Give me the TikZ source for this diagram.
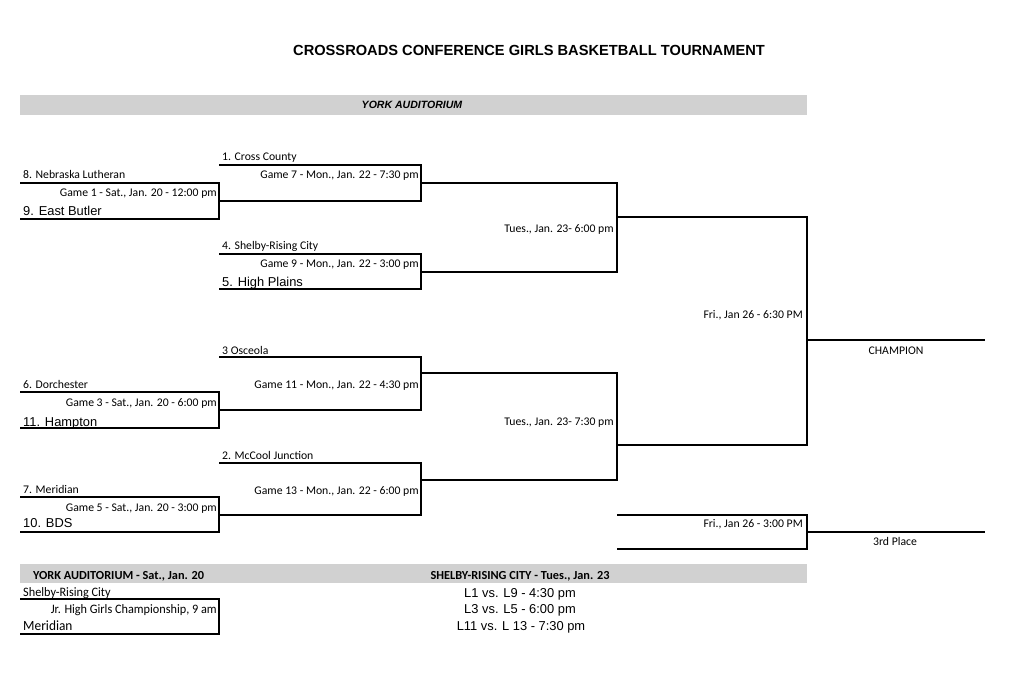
\documentclass[tikz,border=0pt]{standalone}
\usepackage{fontspec}
\setmainfont{Carlito}
\newfontfamily\arialfont{Liberation Sans}
\newfontfamily\narrowfont[FakeStretch=0.95]{Carlito}
\begin{document}
\begin{tikzpicture}[x=0.03cm,y=-0.03cm,
  bline/.style={line width=1.1pt},
  band/.style={fill=black!18},
  seed/.style={anchor=base west,inner sep=0pt,font=\fontsize{10}{12}\selectfont},
  bigseed/.style={anchor=base west,inner sep=0pt,font=\arialfont\fontsize{11}{13}\selectfont},
  gametime/.style={anchor=base east,inner sep=0pt,font=\fontsize{10}{12}\selectfont},
  vsline/.style={anchor=base,inner sep=0pt,font=\arialfont\fontsize{11}{13}\selectfont},
  jrline/.style={inner sep=0pt,font=\narrowfont\fontsize{11}{13}\selectfont}]
  \useasboundingbox (0,0) rectangle (1024,673);
  \fill[white] (0,0) rectangle (1024,673);
  % title and site
  \node[font=\arialfont\bfseries\fontsize{12.5}{15}\selectfont] (title) at (529,50) {CROSSROADS CONFERENCE GIRLS BASKETBALL TOURNAMENT};
  \fill[band] (20,95) rectangle (807,115);
  \node[font=\arialfont\bfseries\itshape\fontsize{9}{11}\selectfont] (site) at (412,105) {YORK AUDITORIUM};
  % opening games
  \draw[bline] (20,183) -| (219,219) -- (20,219);
  \draw[bline] (20,392) -| (219,428) -- (20,428);
  \draw[bline] (20,497) -| (219,532) -- (20,532);
  \node[seed] (g1a) at (23,178) {8. Nebraska Lutheran};
  \node[gametime] (g1) at (217,196) {Game 1 - Sat., Jan. 20 - 12:00 pm};
  \node[bigseed] (g1b) at (23,215) {9. East Butler};
  \node[seed] (g3a) at (23,388) {6. Dorchester};
  \node[gametime] (g3) at (217,406) {Game 3 - Sat., Jan. 20 - 6:00 pm};
  \node[bigseed] (g3b) at (23,426) {11. Hampton};
  \node[seed] (g5a) at (23,493) {7. Meridian};
  \node[gametime] (g5) at (217,511) {Game 5 - Sat., Jan. 20 - 3:00 pm};
  \node[bigseed] (g5b) at (23,527) {10. BDS};
  % quarterfinals
  \draw[bline] (219,165) -| (421,201) -- (219,201);
  \draw[bline] (219,254) -| (421,289) -- (219,289);
  \draw[bline] (219,357) -| (421,410) -- (219,410);
  \draw[bline] (219,463) -| (421,515) -- (219,515);
  \node[seed] (g7a) at (222,160) {1. Cross County};
  \node[gametime] (g7) at (419,178) {Game 7 - Mon., Jan. 22 - 7:30 pm};
  \node[seed] (g9a) at (222,249) {4. Shelby-Rising City};
  \node[gametime] (g9) at (419,267) {Game 9 - Mon., Jan. 22 - 3:00 pm};
  \node[bigseed] (g9b) at (222,286) {5. High Plains};
  \node[seed] (g11a) at (222,354) {3 Osceola};
  \node[gametime] (g11) at (419,388) {Game 11 - Mon., Jan. 22 - 4:30 pm};
  \node[seed] (g13a) at (222,459) {2. McCool Junction};
  \node[gametime] (g13) at (419,494) {Game 13 - Mon., Jan. 22 - 6:00 pm};
  % semifinals
  \draw[bline] (421,183) -| (617,272) -- (421,272);
  \draw[bline] (421,373) -| (617,480) -- (421,480);
  \node[gametime] (s1) at (614,232) {Tues., Jan. 23- 6:00 pm};
  \node[gametime] (s2) at (614,425) {Tues., Jan. 23- 7:30 pm};
  % final and third place
  \draw[bline] (617,217) -| (807,445) -- (617,445);
  \draw[bline] (807,340) -- (985,340);
  \draw[bline] (617,515) -| (807,549) -- (617,549);
  \draw[bline] (807,532) -- (985,532);
  \node[gametime] (fin) at (803,318) {Fri., Jan 26 - 6:30 PM};
  \node[anchor=base,inner sep=0pt] (champ) at (896,354) {CHAMPION};
  \node[gametime] (third) at (803,527) {Fri., Jan 26 - 3:00 PM};
  \node[anchor=base,inner sep=0pt] (place) at (895,545) {3rd Place};
  % consolation schedule
  \fill[band] (20,564) rectangle (807,583);
  \node[anchor=base west,inner sep=0pt,font=\bfseries\fontsize{10.5}{12}\selectfont] (york) at (33,579) {YORK AUDITORIUM - Sat., Jan. 20};
  \node[anchor=base,inner sep=0pt,font=\bfseries\fontsize{10.5}{12}\selectfont] (shelby) at (520,579) {SHELBY-RISING CITY - Tues., Jan. 23};
  \draw[bline] (20,599) -| (219,634) -- (20,634);
  \node[jrline,anchor=base west] (jra) at (23,596) {Shelby-Rising City};
  \node[jrline,anchor=base east] (jr) at (217,613) {Jr. High Girls Championship, 9 am};
  \node[jrline,anchor=base west,font=\narrowfont\fontsize{12}{14}\selectfont] (jrb) at (23,630) {Meridian};
  \node[vsline] (c1) at (520,597) {L1 vs. L9 - 4:30 pm};
  \node[vsline] (c2) at (520,613) {L3 vs. L5 - 6:00 pm};
  \node[vsline] (c3) at (521,630) {L11 vs. L 13 - 7:30 pm};
\end{tikzpicture}
\end{document}
